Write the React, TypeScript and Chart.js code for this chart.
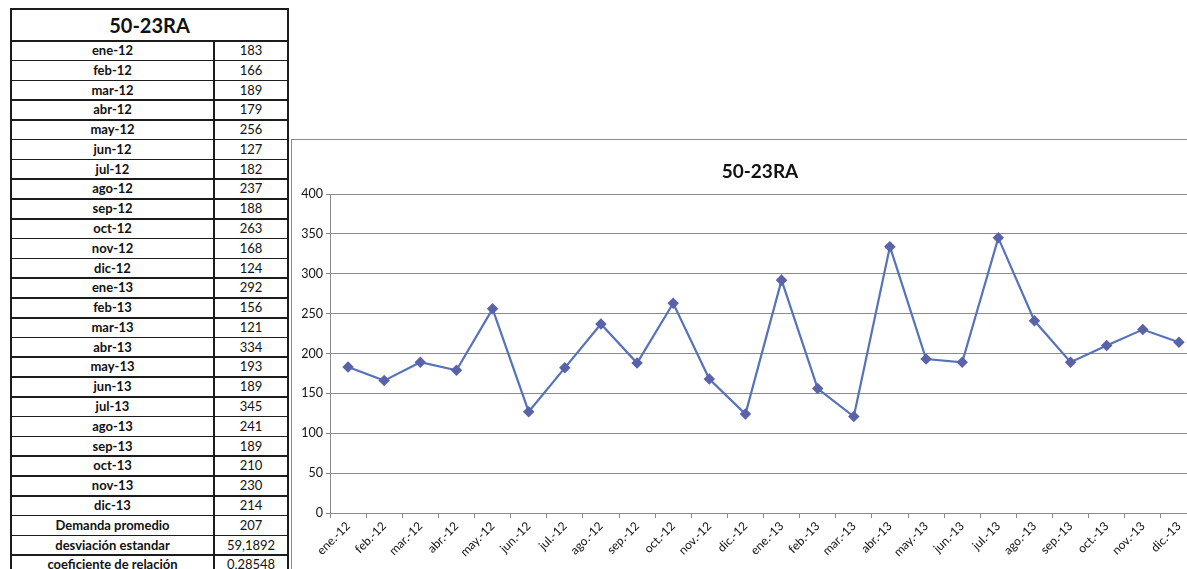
import React, { useEffect, useRef } from "react";
import { Chart, registerables } from "chart.js";

Chart.register(...registerables);

// Monthly demand for item 50-23RA
const title = "50-23RA";
const months = [
  "ene-12", "feb-12", "mar-12", "abr-12", "may-12", "jun-12",
  "jul-12", "ago-12", "sep-12", "oct-12", "nov-12", "dic-12",
  "ene-13", "feb-13", "mar-13", "abr-13", "may-13", "jun-13",
  "jul-13", "ago-13", "sep-13", "oct-13", "nov-13", "dic-13",
];
const axisLabels = [
  "ene.-12", "feb.-12", "mar.-12", "abr.-12", "may.-12", "jun.-12",
  "jul.-12", "ago.-12", "sep.-12", "oct.-12", "nov.-12", "dic.-12",
  "ene.-13", "feb.-13", "mar.-13", "abr.-13", "may.-13", "jun.-13",
  "jul.-13", "ago.-13", "sep.-13", "oct.-13", "nov.-13", "dic.-13",
];
const demand = [
  183, 166, 189, 179, 256, 127, 182, 237, 188, 263, 168, 124,
  292, 156, 121, 334, 193, 189, 345, 241, 189, 210, 230, 214,
];
const summaryLabels = ["Demanda promedio", "desviación estandar", "coeficiente de relación"];
const summaryValues = ["207", "59,1892", "0,28548"];

const FONT = "Lato, 'Liberation Sans', sans-serif";
const ROW_H = 19.78;
const LINE = "#1c1c1c";

function DataTable() {
  const rows = [
    ...months.map((m, i) => ({ label: m, value: String(demand[i]) })),
    ...summaryLabels.map((l, i) => ({ label: l, value: summaryValues[i] })),
  ];
  const top = 32;
  return (
    <div
      style={{
        position: "absolute",
        left: 10,
        top: 8,
        width: 279,
        height: top + rows.length * ROW_H + 2,
        border: `2px solid ${LINE}`,
        boxSizing: "border-box",
        fontFamily: FONT,
        color: "#111",
        background: "#fff",
      }}
    >
      <div
        style={{
          position: "absolute",
          left: 0,
          right: 0,
          top: 0,
          height: top - 2,
          lineHeight: `${top - 2}px`,
          textAlign: "center",
          fontWeight: 700,
          fontSize: 20,
        }}
      >
        {title}
      </div>
      <div
        style={{
          position: "absolute",
          left: 201,
          top: top - 2,
          width: 2,
          bottom: 0,
          background: LINE,
        }}
      />
      {rows.map((r, i) => {
        const y = top - 2 + i * ROW_H;
        return (
          <React.Fragment key={r.label}>
            <div
              style={{
                position: "absolute",
                left: 0,
                right: 0,
                top: y,
                height: 1.6,
                background: LINE,
              }}
            />
            <div
              style={{
                position: "absolute",
                left: 0,
                width: 201,
                top: y + 1,
                height: ROW_H,
                lineHeight: `${ROW_H}px`,
                textAlign: "center",
                fontWeight: 700,
                fontSize: 13,
              }}
            >
              {r.label}
            </div>
            <div
              style={{
                position: "absolute",
                left: 203,
                right: 0,
                top: y + 1,
                height: ROW_H,
                lineHeight: `${ROW_H}px`,
                textAlign: "center",
                fontSize: 13,
              }}
            >
              {r.value}
            </div>
          </React.Fragment>
        );
      })}
    </div>
  );
}

function DemandChart() {
  const ref = useRef<HTMLCanvasElement | null>(null);
  useEffect(() => {
    if (!ref.current) return;
    const grid = "#8a8a8a";
    const chart = new Chart(ref.current, {
      type: "line",
      data: {
        labels: axisLabels,
        datasets: [
          {
            label: title,
            data: demand,
            borderColor: "#5572ba",
            borderWidth: 2.2,
            pointStyle: "rectRot",
            pointRadius: 4.2,
            pointBackgroundColor: "#5a63a9",
            pointBorderColor: "#5a63a9",
            tension: 0,
          },
        ],
      },
      options: {
        animation: false,
        responsive: false,
        layout: { padding: 0 },
        plugins: {
          legend: { display: false },
          tooltip: { enabled: false },
          title: {
            display: true,
            text: title,
            color: "#111",
            font: { family: FONT, size: 19, weight: "bold" },
            padding: { top: 19.6, bottom: 10.6 },
          },
        },
        scales: {
          x: {
            offset: true,
            grid: {
              display: true,
              drawOnChartArea: false,
              drawTicks: true,
              tickLength: 5,
              color: grid,
              offset: true,
            },
            border: { display: true, color: grid, width: 1 },
            ticks: {
              autoSkip: false,
              minRotation: 45,
              maxRotation: 45,
              padding: 1,
              color: "#111",
              font: { family: FONT, size: 12 },
            },
            afterFit: (s: any) => {
              s.height = 57;
            },
          },
          y: {
            min: 0,
            max: 400,
            ticks: {
              stepSize: 50,
              padding: 3,
              color: "#111",
              font: { family: FONT, size: 12.5 },
            },
            grid: { color: grid, tickLength: 4, lineWidth: 1 },
            border: { display: true, color: grid, width: 1 },
            afterFit: (s: any) => {
              s.width = 38;
            },
          },
          pad: {
            type: "linear",
            position: "right",
            display: true,
            grid: { display: false, drawOnChartArea: false },
            border: { display: false },
            ticks: { display: false },
            afterFit: (s: any) => {
              s.width = 31;
            },
          },
        },
      },
    });
    return () => chart.destroy();
  }, []);
  return (
    <div
      style={{
        position: "absolute",
        left: 291,
        top: 139,
        width: 940,
        height: 440,
        borderLeft: "1.5px solid #8a8a8a",
        borderTop: "1.5px solid #8a8a8a",
        background: "#fff",
      }}
    >
      <canvas
        ref={ref}
        width={936}
        height={429}
        style={{ position: "absolute", left: 0, top: 1, width: 936, height: 429 }}
      />
    </div>
  );
}

export default function App() {
  return (
    <div
      style={{
        position: "fixed",
        left: 0,
        top: 0,
        width: 1187,
        height: 569,
        overflow: "hidden",
        background: "#fff",
      }}
    >
      <DataTable />
      <DemandChart />
    </div>
  );
}
